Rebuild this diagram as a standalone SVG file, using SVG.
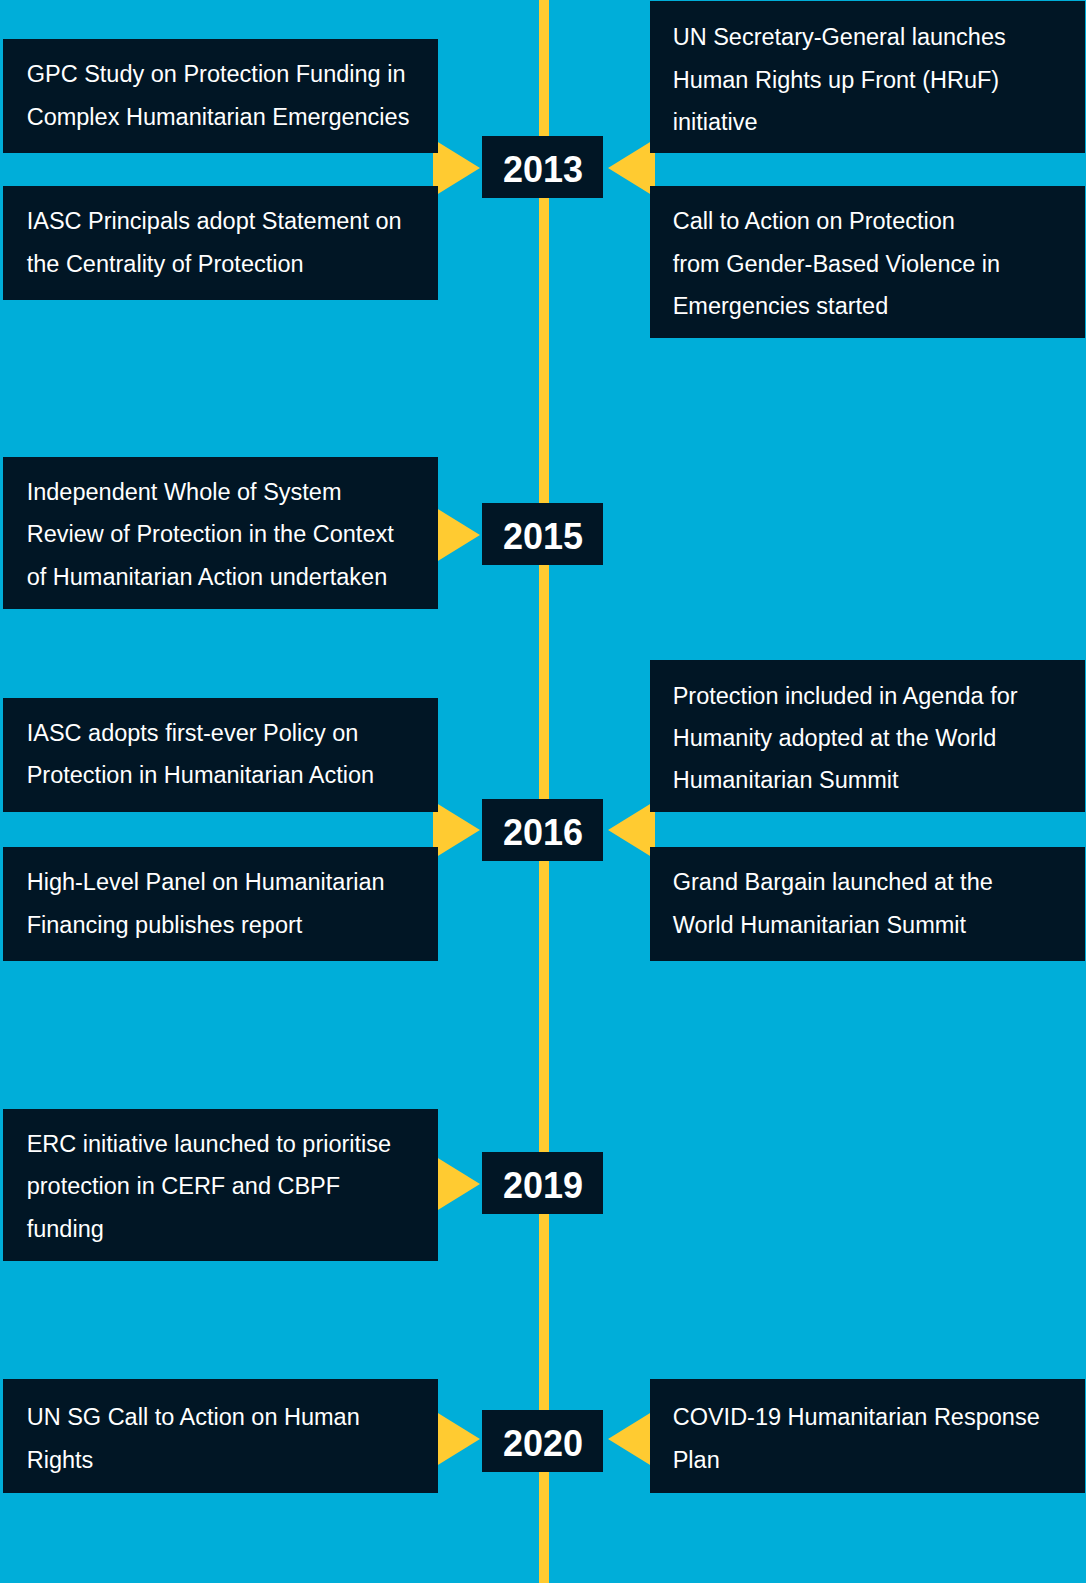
<svg xmlns="http://www.w3.org/2000/svg" width="1086" height="1583" viewBox="0 0 1086 1583">
<style>
.bg{fill:#00AED9}
.box{fill:#011625}
.yel{fill:#FFCB31}
.t{font-family:"Liberation Sans",Arial,Helvetica,sans-serif;font-size:23.5px;fill:#FFFFFF}
.y{font-family:"Liberation Sans",Arial,Helvetica,sans-serif;font-size:36px;font-weight:bold;fill:#FFFFFF;text-anchor:middle}
</style>
<rect class="bg" x="0" y="0" width="1086" height="1583"/>
<g id="connectors">
<rect class="yel" x="539" y="0" width="10" height="1583"/>
<polygon class="yel" points="433,139 480,168 433,197"/>
<polygon class="yel" points="655,139 608,168 655,197"/>
<polygon class="yel" points="433,506 480,535 433,564"/>
<polygon class="yel" points="433,801 480,830 433,859"/>
<polygon class="yel" points="655,801 608,830 655,859"/>
<polygon class="yel" points="433,1155 480,1184 433,1213"/>
<polygon class="yel" points="433,1410 480,1439 433,1468"/>
<polygon class="yel" points="655,1410 608,1439 655,1468"/>
</g>
<g id="y2013"><rect class="box" x="482" y="136" width="121" height="62"/><text class="y" x="543" y="181.7">2013</text></g>
<g id="y2015"><rect class="box" x="482" y="503" width="121" height="62"/><text class="y" x="543" y="548.7">2015</text></g>
<g id="y2016"><rect class="box" x="482" y="799" width="121" height="62"/><text class="y" x="543" y="844.7">2016</text></g>
<g id="y2019"><rect class="box" x="482" y="1152" width="121" height="62"/><text class="y" x="543" y="1197.7">2019</text></g>
<g id="y2020"><rect class="box" x="482" y="1410" width="121" height="62"/><text class="y" x="543" y="1455.7">2020</text></g>
<g id="gpc-study"><rect class="box" x="3" y="39" width="435" height="114"/>
<text class="t" x="26.7" y="82">GPC Study on Protection Funding in</text>
<text class="t" x="26.7" y="124.6">Complex Humanitarian Emergencies</text></g>
<g id="iasc-centrality"><rect class="box" x="3" y="186" width="435" height="114"/>
<text class="t" x="26.7" y="229.3">IASC Principals adopt Statement on</text>
<text class="t" x="26.7" y="271.7">the Centrality of Protection</text></g>
<g id="hruf"><rect class="box" x="650" y="1" width="435" height="152"/>
<text class="t" x="672.7" y="45">UN Secretary-General launches</text>
<text class="t" x="672.7" y="87.7">Human Rights up Front (HRuF)</text>
<text class="t" x="672.7" y="130">initiative</text></g>
<g id="call-to-action-gbv"><rect class="box" x="650" y="186" width="435" height="152"/>
<text class="t" x="672.7" y="229.3">Call to Action on Protection</text>
<text class="t" x="672.7" y="271.7">from Gender-Based Violence in</text>
<text class="t" x="672.7" y="314">Emergencies started</text></g>
<g id="whole-of-system-review"><rect class="box" x="3" y="457" width="435" height="152"/>
<text class="t" x="26.7" y="500">Independent Whole of System</text>
<text class="t" x="26.7" y="542.4">Review of Protection in the Context</text>
<text class="t" x="26.7" y="584.8">of Humanitarian Action undertaken</text></g>
<g id="iasc-policy"><rect class="box" x="3" y="698" width="435" height="114"/>
<text class="t" x="26.7" y="741">IASC adopts first-ever Policy on</text>
<text class="t" x="26.7" y="783.4">Protection in Humanitarian Action</text></g>
<g id="high-level-panel"><rect class="box" x="3" y="847" width="435" height="114"/>
<text class="t" x="26.7" y="890">High-Level Panel on Humanitarian</text>
<text class="t" x="26.7" y="932.5">Financing publishes report</text></g>
<g id="agenda-for-humanity"><rect class="box" x="650" y="660" width="435" height="152"/>
<text class="t" x="672.7" y="704">Protection included in Agenda for</text>
<text class="t" x="672.7" y="746.2">Humanity adopted at the World</text>
<text class="t" x="672.7" y="788.4">Humanitarian Summit</text></g>
<g id="grand-bargain"><rect class="box" x="650" y="847" width="435" height="114"/>
<text class="t" x="672.7" y="890">Grand Bargain launched at the</text>
<text class="t" x="672.7" y="932.5">World Humanitarian Summit</text></g>
<g id="erc-initiative"><rect class="box" x="3" y="1109" width="435" height="152"/>
<text class="t" x="26.7" y="1151.7">ERC initiative launched to prioritise</text>
<text class="t" x="26.7" y="1194.2">protection in CERF and CBPF</text>
<text class="t" x="26.7" y="1236.7">funding</text></g>
<g id="un-sg-human-rights"><rect class="box" x="3" y="1379" width="435" height="114"/>
<text class="t" x="26.7" y="1425">UN SG Call to Action on Human</text>
<text class="t" x="26.7" y="1467.6">Rights</text></g>
<g id="covid-hrp"><rect class="box" x="650" y="1379" width="435" height="114"/>
<text class="t" x="672.7" y="1425">COVID-19 Humanitarian Response</text>
<text class="t" x="672.7" y="1467.6">Plan</text></g>
</svg>
